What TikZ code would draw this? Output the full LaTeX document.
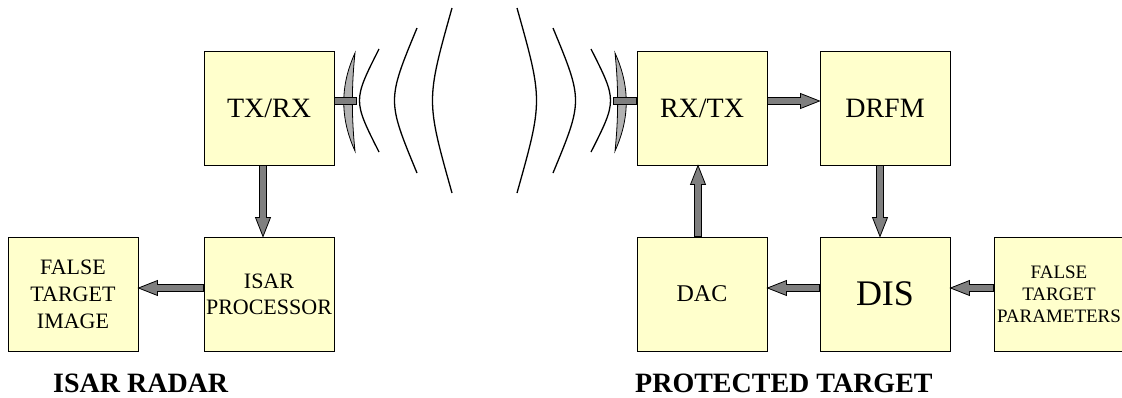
\documentclass[tikz,border=0pt]{standalone}
\usepackage{fontspec}
\setmainfont{Liberation Serif}
\usepackage{tikz}
\usepackage{xcolor}
\usetikzlibrary{positioning, calc}
\definecolor{cBox}{RGB}{255,255,204}
\definecolor{cArrow}{RGB}{127,127,127}
\definecolor{cDish}{RGB}{178,178,178}
\tikzset{
	blk/.style      ={rectangle, draw=black, line width=1pt, minimum width=130pt, minimum height=114pt, inner sep=0pt, align=center, fill=cBox},
	% fat grey arrow from start to target
	blockarrow/.style={draw=black, line width=0.8pt, fill=cArrow, to path={
		let \p1=($(\tikztotarget)!19pt!(\tikztostart)$) in
		($(\tikztostart)!3.5pt!90:(\tikztotarget)$) -- ($(\p1)!3.5pt!90:(\tikztotarget)$)
		-- ($(\p1)!7.5pt!90:(\tikztotarget)$) -- (\tikztotarget)
		-- ($(\p1)!7.5pt!-90:(\tikztotarget)$) -- ($(\p1)!3.5pt!-90:(\tikztotarget)$)
		-- ($(\tikztostart)!3.5pt!-90:(\tikztotarget)$) -- cycle}},
	% antenna and waves
	dish/.style     ={draw=black, line width=0.8pt, fill=cDish},
	stub/.style     ={draw=black, line width=0.8pt, fill=cArrow},
	wave/.style     ={line width=1.3pt},
	title/.style    ={font=\fontsize{28pt}{30pt}\selectfont\bfseries, inner sep=0pt},
}

\begin{document}
\begin{tikzpicture}[x=1pt, y=-1pt, node distance=71pt]
	\useasboundingbox (0,0) rectangle (1122,397);
	% radar side
	\node[blk, font=\fontsize{28pt}{30pt}\selectfont] (txrx) at (269,108) {TX/RX};
	\node[blk, below=of txrx, font=\fontsize{22pt}{26pt}\selectfont] (isarp) {ISAR\\PROCESSOR};
	\node[blk, left=65pt of isarp, font=\fontsize{22pt}{27pt}\selectfont] (fti) {FALSE\\TARGET\\IMAGE};
	% target side
	\node[blk, right=302pt of txrx, font=\fontsize{28pt}{30pt}\selectfont] (rxtx) {RX/TX};
	\node[blk, right=52pt of rxtx, font=\fontsize{28pt}{30pt}\selectfont] (drfm) {DRFM};
	\node[blk, below=of rxtx, font=\fontsize{24pt}{26pt}\selectfont] (dac) {DAC};
	\node[blk, right=52pt of dac, font=\fontsize{36pt}{40pt}\selectfont] (dis) {DIS};
	\node[blk, right=43pt of dis, font=\fontsize{19pt}{22pt}\selectfont] (ftp) {FALSE\\TARGET\\PARAMETERS};

	\path[blockarrow] ([xshift=-6pt]txrx.south) to ([xshift=-6pt]isarp.north);
	\path[blockarrow] ([yshift=6pt]isarp.west) to ([yshift=6pt]fti.east);
	\path[blockarrow] ([yshift=7pt]rxtx.east) to ([yshift=7pt]drfm.west);
	\path[blockarrow] ([xshift=-5pt]drfm.south) to ([xshift=-5pt]dis.north);
	\path[blockarrow] ([yshift=6pt]dis.west) to ([yshift=6pt]dac.east);
	\path[blockarrow] ([yshift=6pt]ftp.west) to ([yshift=6pt]dis.east);
	\path[blockarrow] ([xshift=-4pt]dac.north) to ([xshift=-4pt]rxtx.south);

	% antennas
	\draw[dish] (355,53) .. controls (340,86) and (340,118) .. (355,151) .. controls (351.5,118) and (351.5,86) .. cycle;
	\draw[stub] (334,97) rectangle (356,104.5);
	\draw[dish] (615,53) .. controls (630,86) and (630,118) .. (615,151) .. controls (618.5,118) and (618.5,86) .. cycle;
	\draw[stub] (613,97) rectangle (636,104.5);

	% waves
	\draw[wave] (379,49) .. controls (353,100.5) .. (379,152);
	\draw[wave] (417,28) .. controls (387,100.5) .. (417,173);
	\draw[wave] (452,8) .. controls (426,100.5) .. (452,193);
	\draw[wave] (517,8) .. controls (543,100.5) .. (517,193);
	\draw[wave] (553,28) .. controls (583,100.5) .. (553,173);
	\draw[wave] (591,49) .. controls (617,100.5) .. (591,152);

	\node[title, anchor=base west] (radarlbl) at (53,392) {ISAR RADAR};
	\node[title, anchor=base west] (targetlbl) at (635,392) {PROTECTED TARGET};
\end{tikzpicture}
\end{document}
